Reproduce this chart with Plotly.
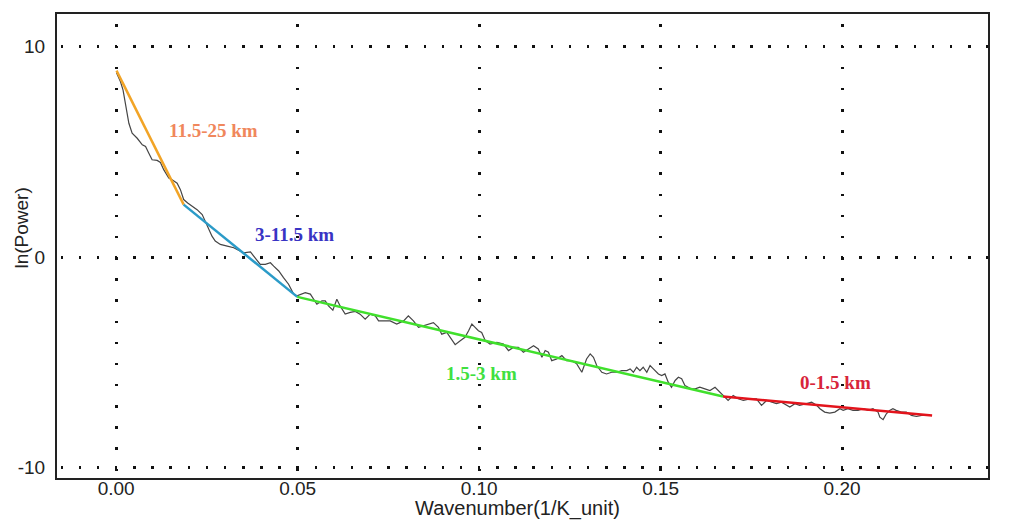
import plotly.graph_objects as go

# Black measured spectrum
wavenumber = [0.0001, 0.0012, 0.0019, 0.0026, 0.0035, 0.0044, 0.0058, 0.0072, 0.0081, 0.0090,
              0.0099, 0.0113, 0.0122, 0.0131, 0.0145, 0.0154, 0.0168, 0.0177, 0.0186, 0.0197,
              0.0208, 0.0223, 0.0237, 0.0246, 0.0255, 0.0264, 0.0273, 0.0287, 0.0306, 0.0324,
              0.0337, 0.0351, 0.0370, 0.0383, 0.0397, 0.0411, 0.0425, 0.0434, 0.0448, 0.0461,
              0.0475, 0.0489, 0.0498, 0.0521, 0.0535, 0.0553, 0.0567, 0.0576, 0.0585, 0.0597,
              0.0608, 0.0617, 0.0631, 0.0645, 0.0659, 0.0672, 0.0686, 0.0700, 0.0714, 0.0723,
              0.0737, 0.0755, 0.0773, 0.0792, 0.0805, 0.0819, 0.0833, 0.0847, 0.0860, 0.0874,
              0.0888, 0.0897, 0.0911, 0.0925, 0.0934, 0.0948, 0.0961, 0.0971, 0.0980, 0.0989,
              0.0998, 0.1007, 0.1017, 0.1030, 0.1049, 0.1067, 0.1081, 0.1094, 0.1108, 0.1122,
              0.1136, 0.1150, 0.1163, 0.1173, 0.1182, 0.1191, 0.1200, 0.1214, 0.1228, 0.1241,
              0.1255, 0.1269, 0.1283, 0.1296, 0.1306, 0.1315, 0.1324, 0.1338, 0.1351, 0.1365,
              0.1379, 0.1393, 0.1407, 0.1416, 0.1425, 0.1434, 0.1443, 0.1452, 0.1462, 0.1471,
              0.1480, 0.1494, 0.1503, 0.1512, 0.1521, 0.1530, 0.1540, 0.1549, 0.1558, 0.1567,
              0.1576, 0.1585, 0.1595, 0.1608, 0.1622, 0.1636, 0.1650, 0.1663, 0.1672, 0.1686,
              0.1700, 0.1714, 0.1728, 0.1746, 0.1764, 0.1778, 0.1792, 0.1806, 0.1819, 0.1833,
              0.1847, 0.1856, 0.1870, 0.1883, 0.1902, 0.1916, 0.1930, 0.1939, 0.1952, 0.1966,
              0.1980, 0.1994, 0.2003, 0.2016, 0.2030, 0.2044, 0.2058, 0.2072, 0.2085, 0.2099,
              0.2104, 0.2113, 0.2122, 0.2131, 0.2140, 0.2149, 0.2163, 0.2177, 0.2191, 0.2205,
              0.2219, 0.2232]
ln_power = [8.75, 8.32, 7.93, 7.14, 6.35, 5.88, 5.64, 5.33, 5.25, 4.93,
            4.62, 4.59, 4.49, 4.15, 3.75, 3.67, 3.51, 3.20, 2.73, 2.57,
            2.45, 2.25, 2.02, 1.70, 1.39, 0.99, 0.76, 0.60, 0.52, 0.44,
            0.32, 0.20, 0.24, -0.03, -0.35, -0.35, -0.27, -0.43, -0.66, -0.98,
            -1.29, -1.76, -1.84, -1.69, -1.76, -2.24, -2.08, -2.08, -2.32, -2.52,
            -2.00, -2.32, -2.71, -2.63, -2.58, -2.71, -2.95, -2.71, -2.79, -3.03,
            -3.03, -3.03, -3.18, -3.03, -2.79, -3.03, -3.34, -3.26, -3.18, -3.11,
            -3.34, -3.66, -3.58, -3.97, -4.16, -3.97, -3.81, -3.50, -3.18, -3.34,
            -3.50, -3.58, -3.97, -4.13, -4.05, -4.13, -4.44, -4.29, -4.29, -4.52,
            -4.36, -4.21, -4.36, -4.76, -4.44, -4.52, -4.92, -4.84, -4.68, -4.92,
            -4.92, -5.07, -5.47, -4.84, -4.60, -4.76, -5.15, -5.47, -5.55, -5.47,
            -5.47, -5.39, -5.39, -5.31, -5.47, -5.23, -5.39, -5.23, -5.47, -5.15,
            -5.31, -5.55, -5.63, -5.55, -5.94, -6.18, -5.86, -5.71, -5.78, -6.10,
            -6.18, -6.26, -6.26, -6.18, -6.26, -6.34, -6.18, -6.42, -6.57, -6.81,
            -6.57, -6.73, -6.81, -6.73, -6.73, -7.04, -6.81, -6.89, -6.96, -6.89,
            -7.04, -7.12, -6.96, -7.04, -6.96, -6.89, -7.04, -7.20, -7.36, -7.41,
            -7.36, -7.20, -7.28, -7.20, -7.28, -7.28, -7.20, -7.28, -7.20, -7.36,
            -7.60, -7.72, -7.44, -7.28, -7.20, -7.28, -7.36, -7.36, -7.52, -7.57,
            -7.52, -7.52]

# Fitted straight segments (x endpoints, y endpoints)
seg_names = ["11.5-25 km", "3-11.5 km", "1.5-3 km", "0-1.5 km"]
seg_x = [[0.0001, 0.0186], [0.0186, 0.0499], [0.0499, 0.1672], [0.1672, 0.2248]]
seg_y = [[8.85, 2.49], [2.49, -1.89], [-1.89, -6.62], [-6.62, -7.52]]
seg_colors = ["#F2A426", "#2B9BC8", "#40E02C", "#E3141C"]

# Segment labels
label_x = [0.0268, 0.0491, 0.1007, 0.1982]
label_y = [6.0, 1.09, -5.55, -5.94]
label_colors = ["#F0875C", "#3934C4", "#40E040", "#D8253A"]

x_ticks = [0.00, 0.05, 0.10, 0.15, 0.20]
x_tick_text = ["0.00", "0.05", "0.10", "0.15", "0.20"]
y_ticks = [-10, 0, 10]
y_tick_text = ["-10", "0", "10"]

x_range = [-0.0163, 0.2402]
y_range = [-10.49, 11.54]

fig = go.Figure()
fig.add_trace(go.Scatter(x=wavenumber, y=ln_power, mode="lines",
                         line=dict(color="#454545", width=1.2), showlegend=False))
for sx, sy, c in zip(seg_x, seg_y, seg_colors):
    fig.add_trace(go.Scatter(x=sx, y=sy, mode="lines",
                             line=dict(color=c, width=2.5), showlegend=False))

for t, lx, ly, c in zip(seg_names, label_x, label_y, label_colors):
    fig.add_annotation(x=lx, y=ly, text="<b>%s</b>" % t, showarrow=False,
                       font=dict(family="Liberation Serif", size=19, color=c))

fig.add_annotation(xref="paper", yref="paper", x=0.495, y=-0.066, text="Wavenumber(1/K_unit)",
                   showarrow=False, yanchor="middle",
                   font=dict(family="Liberation Sans", size=20, color="#222"))
fig.add_annotation(xref="paper", yref="paper", x=-0.038, y=0.539, text="ln(Power)",
                   textangle=-90, showarrow=False, xanchor="center", yanchor="middle",
                   font=dict(family="Liberation Sans", size=19, color="#222"))

tick_font = dict(family="Liberation Sans", size=19, color="#222")
fig.update_layout(
    width=1031, height=525,
    margin=dict(l=57, r=43, t=12, b=47),
    paper_bgcolor="white", plot_bgcolor="white",
    xaxis=dict(range=x_range, tickvals=x_ticks, ticktext=x_tick_text,
               showgrid=True, gridcolor="#111", gridwidth=2.5,
               griddash="0px,10.4px,2.5px,8.25px",
               zeroline=False, showline=True, mirror=True, linecolor="#222", linewidth=2,
               ticks="", tickfont=tick_font, ticklabelstandoff=-8),
    yaxis=dict(range=y_range, tickvals=y_ticks, ticktext=y_tick_text,
               showgrid=True, gridcolor="#111", gridwidth=2.5,
               griddash="0px,3.5px,2.5px,12.15px",
               zeroline=False, showline=True, mirror=True, linecolor="#222", linewidth=2,
               ticks="", tickfont=tick_font, ticklabelstandoff=6),
    yaxis2=dict(range=y_range, tickvals=y_ticks, ticktext=y_tick_text, overlaying="y",
                side="right", showgrid=False, zeroline=False, showline=False,
                ticks="", tickfont=tick_font, ticklabelstandoff=6),
)

fig.write_html("out.html")
